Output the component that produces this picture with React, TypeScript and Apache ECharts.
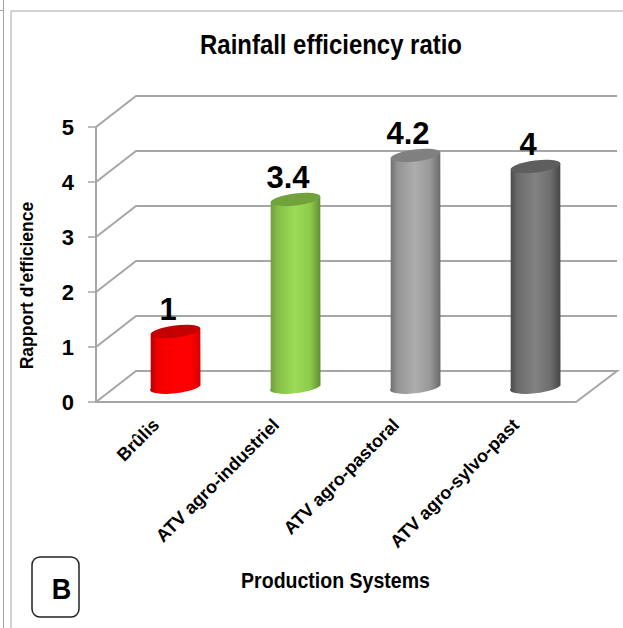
import React, { useEffect, useRef } from "react";
import * as echarts from "echarts";

const categories = ["Brûlis", "ATV agro-industriel", "ATV agro-pastoral", "ATV agro-sylvo-past"];
const ratios = [1, 3.4, 4.2, 4];
const yTicks = [0, 1, 2, 3, 4, 5];
const capColors = ["#c40000", "#72a23c", "#808080", "#5e5e5e"];
const bodyStops = [
  ["#b00000", "#f20000", "#ff0000", "#ff0000", "#d80000"],
  ["#6d9c3a", "#85bf49", "#9bdc56", "#8cc94c", "#628c35"],
  ["#6e6e6e", "#949494", "#adadad", "#989898", "#696969"],
  ["#494949", "#6c6c6c", "#828282", "#6e6e6e", "#454545"],
];

const FONT = "'Liberation Sans', Arial, sans-serif";
const GREY = "#a6a6a6";
const DEPTH_X = 40;
const DEPTH_Y = 31;
const TILT = (7 * Math.PI) / 180;

export default function App() {
  const ref = useRef<HTMLDivElement>(null);
  useEffect(() => {
    const chart = echarts.init(ref.current!, null, { renderer: "svg" });
    chart.setOption({
      animation: false,
      backgroundColor: "#ffffff",
      grid: { left: 96, right: 47, top: 127, bottom: 226 },
      xAxis: {
        type: "category",
        data: categories,
        axisLine: { lineStyle: { color: GREY, width: 2 } },
        axisTick: { length: 6, lineStyle: { color: GREY, width: 1.5 } },
        axisLabel: {
          rotate: 45,
          interval: 0,
          margin: 20,
          fontFamily: FONT,
          fontWeight: "bold",
          fontSize: 18,
          color: "#000",
        },
      },
      yAxis: {
        type: "value",
        min: 0,
        max: 5,
        interval: 1,
        name: "Rapport d'efficience",
        nameLocation: "middle",
        nameRotate: 90,
        nameGap: 60,
        nameTextStyle: {
          fontFamily: FONT,
          fontWeight: "bold",
          fontSize: 17.5,
          color: "#000",
          padding: [0, 42, 0, 0],
        },
        splitLine: { show: false },
        axisLine: { show: true, lineStyle: { color: GREY, width: 2 } },
        axisTick: { show: true, length: 8, lineStyle: { color: GREY, width: 1.5 } },
        axisLabel: {
          margin: 22,
          fontFamily: FONT,
          fontWeight: "bold",
          fontSize: 22,
          color: "#000",
          padding: [5, 0, 0, 0],
        },
      },
      graphic: [
        { type: "line", shape: { x1: 3.5, y1: 0, x2: 3.5, y2: 628 }, style: { stroke: "#a6a6a6", lineWidth: 1 } },
        { type: "line", shape: { x1: 0, y1: 10.5, x2: 3.5, y2: 10.5 }, style: { stroke: "#a6a6a6", lineWidth: 1 } },
        { type: "line", shape: { x1: 11, y1: 11, x2: 11, y2: 628 }, style: { stroke: "#a6a6a6", lineWidth: 1 } },
        { type: "line", shape: { x1: 11, y1: 11, x2: 623, y2: 11 }, style: { stroke: "#a6a6a6", lineWidth: 1 } },
        {
          type: "text",
          x: 331,
          y: 44,
          scaleX: 0.886,
          style: {
            text: "Rainfall efficiency ratio",
            font: `bold 27px ${FONT}`,
            fill: "#000",
            align: "center",
            verticalAlign: "middle",
          },
        },
        {
          type: "text",
          x: 335.5,
          y: 580,
          scaleX: 0.888,
          style: {
            text: "Production Systems",
            font: `bold 22px ${FONT}`,
            fill: "#000",
            align: "center",
            verticalAlign: "middle",
          },
        },
        {
          type: "rect",
          shape: { x: 32, y: 557, width: 47, height: 60, r: 8 },
          style: { fill: "#fff", stroke: "#222", lineWidth: 1.5 },
        },
        {
          type: "text",
          x: 61.5,
          y: 588,
          scaleX: 0.9,
          style: { text: "B", font: `bold 30px ${FONT}`, fill: "#000", align: "center", verticalAlign: "middle" },
        },
      ],
      series: [
        {
          type: "custom",
          coordinateSystem: "cartesian2d",
          silent: true,
          z: 1,
          data: yTicks.map((v) => [0, v]),
          renderItem: (params: any, api: any) => {
            const y = api.coord([0, api.value(1)])[1];
            const cs = params.coordSys;
            const pts: number[][] = [
              [cs.x, y],
              [cs.x + DEPTH_X, y - DEPTH_Y],
              [cs.x + cs.width + DEPTH_X + 1, y - DEPTH_Y],
            ];
            if (api.value(1) === 0) pts.push([cs.x + cs.width, y]);
            return {
              type: "polyline",
              shape: { points: pts },
              style: { stroke: GREY, lineWidth: 2, fill: "none" },
            };
          },
        },
        {
          type: "custom",
          coordinateSystem: "cartesian2d",
          silent: true,
          z: 3,
          data: ratios.map((v, i) => [i, v]),
          renderItem: (params: any, api: any) => {
            const i = params.dataIndex;
            const top = api.coord([api.value(0), api.value(1)]);
            const base = api.coord([api.value(0), 0]);
            const cx = top[0] + DEPTH_X / 2 - 0.5;
            const yt = top[1] - DEPTH_Y / 2;
            const yb = base[1] - DEPTH_Y / 2 - 1;
            const rx = 25;
            const ry = 6;
            const ex = rx * Math.cos(TILT);
            const ey = rx * Math.sin(TILT);
            const d =
              `M ${cx - ex} ${yt + ey} L ${cx - ex} ${yb + ey} ` +
              `A ${rx} ${ry} -7 0 0 ${cx + ex} ${yb - ey} ` +
              `L ${cx + ex} ${yt - ey} Z`;
            const s = bodyStops[i];
            return {
              type: "group",
              children: [
                {
                  type: "path",
                  shape: { pathData: d },
                  style: {
                    fill: new echarts.graphic.LinearGradient(0, 0, 1, 0, [
                      { offset: 0, color: s[0] },
                      { offset: 0.15, color: s[1] },
                      { offset: 0.5, color: s[2] },
                      { offset: 0.8, color: s[3] },
                      { offset: 1, color: s[4] },
                    ]),
                  },
                },
                {
                  type: "ellipse",
                  x: cx,
                  y: yt,
                  rotation: TILT,
                  shape: { cx: 0, cy: 0, rx, ry },
                  style: { fill: capColors[i] },
                },
                {
                  type: "text",
                  style: {
                    text: String(api.value(1)),
                    x: top[0] + 12,
                    y: yt - 7,
                    align: "center",
                    verticalAlign: "bottom",
                    font: `bold 31px ${FONT}`,
                    fill: "#000",
                  },
                },
              ],
            };
          },
        },
      ],
    });
    return () => chart.dispose();
  }, []);
  return <div ref={ref} style={{ position: "fixed", left: 0, top: 0, width: 623, height: 628 }} />;
}
